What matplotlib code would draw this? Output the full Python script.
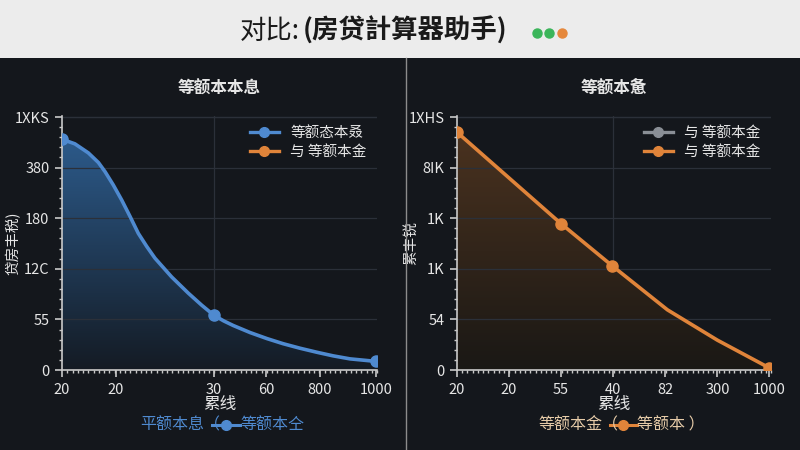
import matplotlib
matplotlib.use("Agg")
import matplotlib.pyplot as plt
import numpy as np
from matplotlib.lines import Line2D
from matplotlib.patches import Rectangle
from matplotlib.ticker import FixedLocator, MultipleLocator

plt.rcParams["font.family"] = ["Noto Sans CJK SC", "DejaVu Sans"]

BG = "#14171c"
HEAD = "#ececec"
GRID = "#2b3039"
SPINE = "#c9c9c9"
TXT = "#e6e6e6"
BLUE = "#4f8ad0"
ORANGE = "#e0843a"
GRAY = "#8a8f96"
TAN = "#e6cba8"

# ---- left panel (等额本本息) ----
left_xticks = [0, 1.72, 4.84, 6.5, 8.2, 10]
left_xlabels = ["20", "20", "30", "60", "800", "1000"]
left_yticks = [0, 1, 2, 3, 4, 5]
left_ylabels = ["0", "55", "12C", "180", "380", "1XKS"]
left_curve_x = [0, 0.41, 0.84, 1.16, 1.37, 1.63, 1.90, 2.17, 2.43, 2.70, 2.96,
                3.49, 4.02, 4.45, 4.84, 5.15, 5.45, 5.99, 6.53, 7.04, 7.58, 8.12,
                8.63, 9.17, 10]
left_curve_y = [4.56, 4.47, 4.29, 4.10, 3.92, 3.66, 3.36, 3.03, 2.70, 2.44, 2.21,
                1.84, 1.52, 1.28, 1.08, 0.97, 0.88, 0.74, 0.62, 0.52, 0.43, 0.35,
                0.28, 0.22, 0.17]
left_pts_x = [0, 4.84, 10]
left_pts_y = [4.56, 1.08, 0.17]

# ---- right panel (等额本惫) ----
right_xticks = [0, 1, 2, 3, 4, 5, 6]
right_xlabels = ["20", "20", "55", "40", "82", "300", "1000"]
right_yticks = [0, 1, 2, 3, 4, 5]
right_ylabels = ["0", "54", "1K", "1K", "8IK", "1XHS"]
right_curve_x = [0, 2, 2.98, 4.04, 5, 6]
right_curve_y = [4.70, 2.89, 2.06, 1.19, 0.59, 0.04]
right_pts_x = [0, 2, 2.98, 6]
right_pts_y = [4.70, 2.89, 2.06, 0.04]

fig = plt.figure(figsize=(8, 4.5), dpi=100, facecolor=BG)

# header band
fig.patches.append(Rectangle((0, 1 - 58 / 450), 1, 58 / 450, transform=fig.transFigure,
                             facecolor=HEAD, edgecolor="none", zorder=0))
fig.text(300 / 800, 1 - 31 / 450, "对比:", ha="right", va="center", fontsize=19, color="#1a1a1a")
fig.text(303 / 800, 1 - 31 / 450, "(房贷計算器助手)", ha="left", va="center", fontsize=19,
         color="#1a1a1a", fontweight="bold")
for px, c in [(537, "#3bb55a"), (549, "#3bb55a"), (562, "#e5883c")]:
    fig.add_artist(Line2D([px / 800], [1 - 33 / 450], marker="o", markersize=6.5,
                          color=c, transform=fig.transFigure, linestyle="none"))
# separator
fig.add_artist(Line2D([406 / 800, 406 / 800], [0, 1 - 58 / 450], color="#8c8c8c", lw=1,
                      transform=fig.transFigure))


def panel(rect, cx, cy, px, py, color, top_col, bot_col, xt, xl, yt, yl, xmax, vgrid,
          title, ylabel, ylab_x, legend_items):
    ax = fig.add_axes(rect, facecolor=BG)
    ax.set_xlim(0, xmax)
    ax.set_ylim(0, 5.02)
    # gradient fill under the line
    poly = ax.fill_between(cx, cy, 0, color="none")
    grad = np.linspace(0, 1, 256).reshape(-1, 1)
    cmap = matplotlib.colors.LinearSegmentedColormap.from_list("g", [bot_col, top_col])
    im = ax.imshow(grad, extent=[0, xmax, 0, max(cy)], origin="lower", aspect="auto",
                   cmap=cmap, zorder=1)
    im.set_clip_path(poly.get_paths()[0], transform=ax.transData)
    ax.plot(cx, cy, color=color, lw=2.6, zorder=3, solid_capstyle="round",
            solid_joinstyle="round")
    ax.plot(px, py, "o", color=color, markersize=8, zorder=4)

    ax.xaxis.set_major_locator(FixedLocator(xt))
    ax.set_xticklabels(xl)
    ax.yaxis.set_major_locator(FixedLocator(yt))
    ax.set_yticklabels(yl)
    ax.xaxis.set_minor_locator(MultipleLocator(xmax / 60))
    ax.yaxis.set_minor_locator(MultipleLocator(0.2))
    ax.tick_params(colors=TXT, labelsize=10.5, length=5, width=1.2, color=SPINE, pad=4)
    ax.tick_params(which="minor", length=2, width=1, color=SPINE)
    ax.grid(True, which="major", color=GRID, lw=0.9)
    ax.xaxis.grid(False)
    ax.axvline(vgrid, color=GRID, lw=0.9, zorder=0)
    ax.axhline(5.0, color=GRID, lw=0.9)
    for s in ("top", "right"):
        ax.spines[s].set_visible(False)
    for s in ("left", "bottom"):
        ax.spines[s].set_color(SPINE)
        ax.spines[s].set_linewidth(1.2)
    ax.set_title(title, color=TXT, fontsize=12, fontweight="bold", pad=16)
    ax.set_xlabel("累线", color=TXT, fontsize=12, labelpad=0)
    ax.set_ylabel(ylabel, color=TXT, fontsize=10.5)
    ax.yaxis.set_label_coords(ylab_x, 0.5)
    handles = [Line2D([], [], color=c, lw=2.4, marker="o", markersize=7) for c, _ in legend_items]
    leg = ax.legend(handles, [t for _, t in legend_items], loc="upper right", frameon=False,
                    fontsize=10.5, handlelength=2.0, borderaxespad=0.3, labelspacing=0.35)
    for t in leg.get_texts():
        t.set_color(TXT)
    return ax


panel([62 / 800, 1 - 370 / 450, 315 / 800, 254 / 450], left_curve_x, left_curve_y,
      left_pts_x, left_pts_y, BLUE, "#2c5a8a", "#141b24", left_xticks, left_xlabels,
      left_yticks, left_ylabels, 10.03, 4.84, "等额本本息", "贷房丰税)", -0.13,
      [(BLUE, "等额态本叒"), (ORANGE, "与 等额本金")])

panel([457 / 800, 1 - 370 / 450, 314 / 800, 254 / 450], right_curve_x, right_curve_y,
      right_pts_x, right_pts_y, ORANGE, "#4a321f", "#1a1815", right_xticks, right_xlabels,
      right_yticks, right_ylabels, 6.03, 3, "等额本惫", "累丰锐", -0.125,
      [(GRAY, "与 等额本金"), (ORANGE, "与 等额本金")])

# captions under each panel
yc = 1 - 425 / 450
fig.text(140 / 800, yc, "平额本息（", ha="left", va="center", fontsize=11.5, color=BLUE)
fig.add_artist(Line2D([212 / 800, 240 / 800], [yc, yc], color=BLUE, lw=2.2,
                      transform=fig.transFigure))
fig.add_artist(Line2D([226 / 800], [yc], color=BLUE, marker="o", markersize=7,
                      transform=fig.transFigure, linestyle="none"))
fig.text(240 / 800, yc, "等额本仝", ha="left", va="center", fontsize=11.5, color=BLUE)

fig.text(538 / 800, yc, "等额本金（", ha="left", va="center", fontsize=11.5, color=TAN)
fig.add_artist(Line2D([610 / 800, 637 / 800], [yc, yc], color=ORANGE, lw=2.2,
                      transform=fig.transFigure))
fig.add_artist(Line2D([623 / 800], [yc], color=ORANGE, marker="o", markersize=7,
                      transform=fig.transFigure, linestyle="none"))
fig.text(637 / 800, yc, "等额本 ）", ha="left", va="center", fontsize=11.5, color=TAN)

fig.savefig("out.png", dpi=100, facecolor=BG)
